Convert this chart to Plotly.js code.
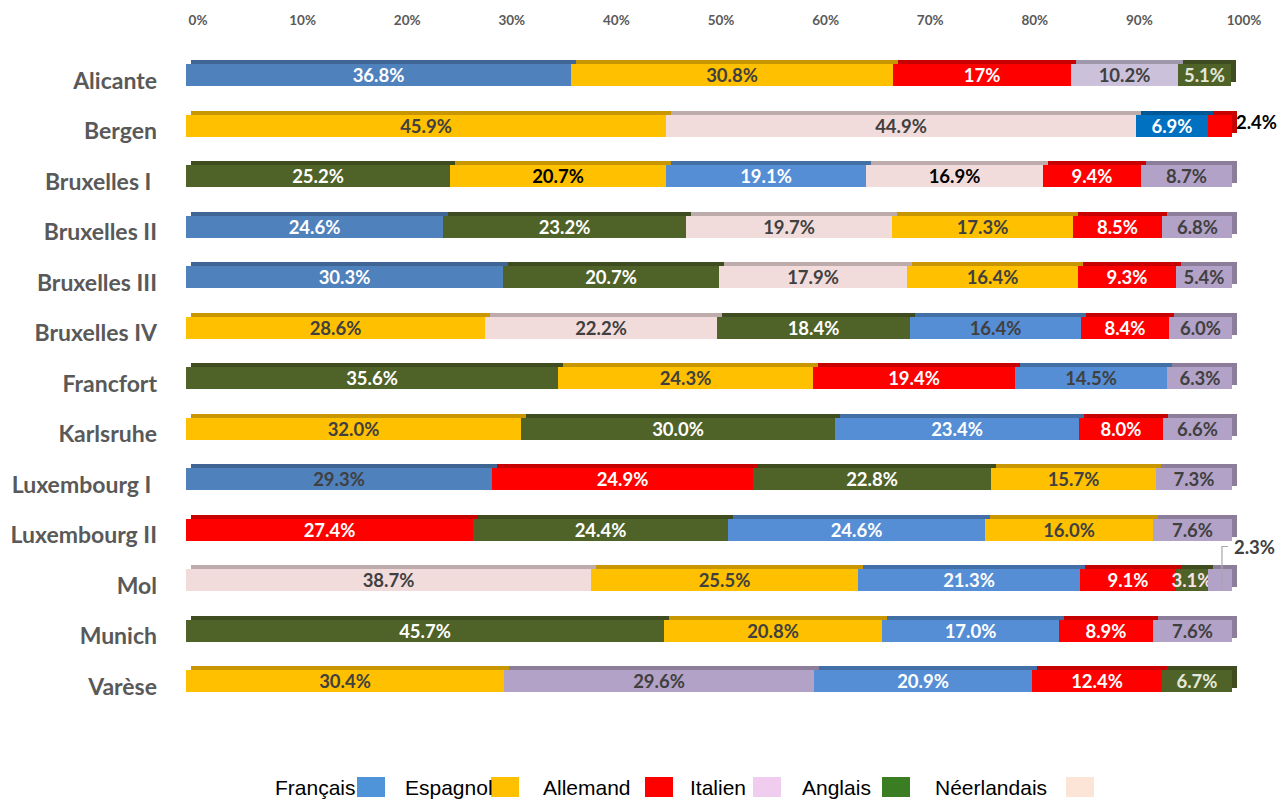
<!DOCTYPE html>
<html>
<head>
<meta charset="utf-8">
<script src="https://cdn.plot.ly/plotly-3.0.1.min.js"></script>
<style>
  html, body { margin: 0; padding: 0; background: #ffffff; }
  #chart { width: 1278px; height: 800px; }
</style>
</head>
<body>
<div id="chart"></div>
<script>
// ---------------- DATA ----------------
const categories = ['Alicante', 'Bergen', 'Bruxelles I', 'Bruxelles II', 'Bruxelles III', 'Bruxelles IV',
  'Francfort', 'Karlsruhe', 'Luxembourg I', 'Luxembourg II', 'Mol', 'Munich', 'Varèse'];
// category labels as printed (two of them carry a trailing space)
const categoryLabels = ['Alicante', 'Bergen', 'Bruxelles I\u00a0', 'Bruxelles II', 'Bruxelles III', 'Bruxelles IV',
  'Francfort', 'Karlsruhe', 'Luxembourg I\u00a0', 'Luxembourg II', 'Mol', 'Munich', 'Varèse'];

// language of each segment, left to right, for each school
const rowLanguages = [
  ['FR', 'ES', 'DE', 'NL', 'EN'],
  ['ES', 'IT', 'FR', 'DE'],
  ['EN', 'ES', 'FR', 'IT', 'DE', 'NL'],
  ['FR', 'EN', 'IT', 'ES', 'DE', 'NL'],
  ['FR', 'EN', 'IT', 'ES', 'DE', 'NL'],
  ['ES', 'IT', 'EN', 'FR', 'DE', 'NL'],
  ['EN', 'ES', 'DE', 'FR', 'NL'],
  ['ES', 'EN', 'FR', 'DE', 'NL'],
  ['FR', 'DE', 'EN', 'ES', 'NL'],
  ['DE', 'EN', 'FR', 'ES', 'NL'],
  ['IT', 'ES', 'FR', 'DE', 'EN', 'NL'],
  ['EN', 'ES', 'FR', 'DE', 'NL'],
  ['ES', 'NL', 'FR', 'DE', 'EN']
];

// share (%) of each segment, as printed on the chart
const rowValues = [
  ['36.8', '30.8', '17', '10.2', '5.1'],
  ['45.9', '44.9', '6.9', '2.4'],
  ['25.2', '20.7', '19.1', '16.9', '9.4', '8.7'],
  ['24.6', '23.2', '19.7', '17.3', '8.5', '6.8'],
  ['30.3', '20.7', '17.9', '16.4', '9.3', '5.4'],
  ['28.6', '22.2', '18.4', '16.4', '8.4', '6.0'],
  ['35.6', '24.3', '19.4', '14.5', '6.3'],
  ['32.0', '30.0', '23.4', '8.0', '6.6'],
  ['29.3', '24.9', '22.8', '15.7', '7.3'],
  ['27.4', '24.4', '24.6', '16.0', '7.6'],
  ['38.7', '25.5', '21.3', '9.1', '3.1', '2.3'],
  ['45.7', '20.8', '17.0', '8.9', '7.6'],
  ['30.4', '29.6', '20.9', '12.4', '6.7']
];

// labels drawn outside the bar: [row, segment]
const outsideLabels = [[1, 3], [10, 5]];

const xTickValues = [0, 10, 20, 30, 40, 50, 60, 70, 80, 90, 100];
const xTickLabels = ['0%', '10%', '20%', '30%', '40%', '50%', '60%', '70%', '80%', '90%', '100%'];

const legendLabels = ['Français', 'Espagnol', 'Allemand', 'Italien', 'Anglais', 'Néerlandais'];

// ---------------- STYLE ----------------
const langNames = { FR: 'Français', ES: 'Espagnol', DE: 'Allemand', IT: 'Italien', EN: 'Anglais', NL: 'Néerlandais' };
const langColors = { FR: '#558ed5', ES: '#ffc000', DE: '#ff0000', IT: '#f2dcdb', EN: '#4f6228', NL: '#b3a2c7' };
// per-row colour variants seen in the picture
const colorOverrides = {
  '0|FR': '#4f81bd', '3|FR': '#4f81bd', '4|FR': '#4f81bd', '8|FR': '#4f81bd',
  '1|FR': '#0070c0', '0|NL': '#ccc1da'
};
const textColorCodes = [
  'wdwdl', 'ddwk', 'wkwkwd', 'wwddwd', 'wwddwd', 'ddwdwd', 'wdwdd',
  'dwwwd', 'dwwdd', 'wwwdd', 'ddwwpd', 'wdwwd', 'ddwwl'
];
const textColorMap = { w: '#ffffff', d: '#404040', k: '#000000', l: '#e4e8d8', p: '#fbe4e4' };
const legendSwatchColors = ['#4f94d8', '#ffc000', '#ff0000', '#f0cdee', '#3a7d22', '#fce4d6'];

function darken(hex, f) {
  const n = parseInt(hex.slice(1), 16);
  const r = Math.round(((n >> 16) & 255) * f), g = Math.round(((n >> 8) & 255) * f), b = Math.round((n & 255) * f);
  return 'rgb(' + r + ',' + g + ',' + b + ')';
}
function segColor(row, lang) {
  return colorOverrides[row + '|' + lang] || langColors[lang];
}
function isOutside(r, k) {
  return outsideLabels.some(p => p[0] === r && p[1] === k);
}

// ---------------- GEOMETRY ----------------
const W = 1278, H = 800;
const plotLeft = 186, plotRight = 1232, plotTop = 50.25, plotBottom = 706.75;
const depthX = 5, depthY = 4;
const FONT = 'Lato, "Open Sans", sans-serif';
const LABEL_SIZE = 18.5;
const LEGEND_FONT = '"Liberation Sans Narrow", "Arial Narrow", "Liberation Sans", sans-serif';

const xFront = [plotLeft / W, plotRight / W];
const yFront = [(H - plotBottom) / H, (H - plotTop) / H];
const xBack = [(plotLeft + depthX) / W, (plotRight + depthX) / W];
const yBack = [(H - plotBottom + depthY) / H, (H - plotTop + depthY) / H];

const maxSeg = Math.max(...rowLanguages.map(r => r.length));
const traces = [];
const barWidth = 0.43;

// back layer (3D depth)
for (let k = 0; k < maxSeg; k++) {
  traces.push({
    type: 'bar', orientation: 'h', xaxis: 'x', yaxis: 'y',
    y: categories,
    x: rowValues.map(r => (r[k] !== undefined ? parseFloat(r[k]) : null)),
    width: barWidth,
    marker: { color: rowLanguages.map((r, i) => (r[k] ? darken(segColor(i, r[k]), 0.78) : 'rgba(0,0,0,0)')), line: { width: 0 } },
    hoverinfo: 'skip', showlegend: false
  });
}
// front layer
for (let k = 0; k < maxSeg; k++) {
  traces.push({
    type: 'bar', orientation: 'h', xaxis: 'x2', yaxis: 'y2',
    y: categories,
    x: rowValues.map(r => (r[k] !== undefined ? parseFloat(r[k]) : null)),
    name: 'segment ' + (k + 1),
    width: barWidth,
    marker: { color: rowLanguages.map((r, i) => (r[k] ? segColor(i, r[k]) : 'rgba(0,0,0,0)')), line: { width: 0 } },
    text: rowValues.map((r, i) => (r[k] !== undefined && !isOutside(i, k) ? r[k] + '%' : '')),
    textposition: 'inside', insidetextanchor: 'middle', textangle: 0,
    textfont: {
      family: FONT, size: LABEL_SIZE, weight: 700,
      color: textColorCodes.map(c => textColorMap[c[k]] || '#404040')
    },
    customdata: rowLanguages.map(r => (r[k] ? langNames[r[k]] : '')),
    hovertemplate: '%{y}<br>%{customdata}: %{x}%<extra></extra>',
    showlegend: false
  });
}

// annotations for labels outside the bars
const annotations = [];
const shapes = [];
outsideLabels.forEach(([r, k], idx) => {
  const vals = rowValues[r].map(parseFloat);
  const start = vals.slice(0, k).reduce((a, b) => a + b, 0);
  const end = Math.min(start + vals[k], 100);
  if (idx === 0) {
    annotations.push({
      xref: 'x2', yref: 'y2', x: end, y: categories[r], xanchor: 'left', yanchor: 'middle',
      xshift: 2, yshift: 4, showarrow: false, text: rowValues[r][k] + '%',
      font: { family: FONT, size: LABEL_SIZE, weight: 700, color: textColorMap[textColorCodes[r][k]] }
    });
  } else {
    const mid = (start + end) / 2;
    annotations.push({
      xref: 'x2', yref: 'y2', x: mid, y: categories[r], xanchor: 'left', yanchor: 'middle',
      xshift: 12, yshift: 34, showarrow: false, text: rowValues[r][k] + '%',
      font: { family: FONT, size: LABEL_SIZE, weight: 700, color: '#404040' }
    });
    shapes.push({
      type: 'path', xref: 'x2', yref: 'y2', xsizemode: 'pixel', ysizemode: 'pixel',
      xanchor: mid, yanchor: r,
      path: 'M 2,-10 L 2,34 L 8,34',
      line: { color: '#a6a6a6', width: 1.2 }
    });
  }
});

// legend (label followed by swatch, as in the original)
const legendTextX = [273, 403, 541, 688, 800, 933];
const legendSwatchX = [357, 491, 645, 753, 882, 1066];
const legendY = 787;
legendLabels.forEach((lab, i) => {
  annotations.push({
    xref: 'paper', yref: 'paper', x: legendTextX[i] / W, y: (H - legendY) / H,
    xanchor: 'left', yanchor: 'middle', showarrow: false, text: lab,
    font: { family: LEGEND_FONT, size: 21, color: '#000000' }
  });
  shapes.push({
    type: 'rect', xref: 'paper', yref: 'paper',
    x0: legendSwatchX[i] / W, x1: (legendSwatchX[i] + 28) / W,
    y0: (H - 797) / H, y1: (H - 777) / H,
    fillcolor: legendSwatchColors[i], line: { width: 0 }
  });
});

const layout = {
  width: W, height: H,
  margin: { l: 0, r: 0, t: 0, b: 0 },
  paper_bgcolor: '#ffffff', plot_bgcolor: 'rgba(0,0,0,0)',
  barmode: 'stack', bargap: 0,
  showlegend: false,
  xaxis: { domain: xBack, range: [0, 100], showgrid: false, zeroline: false, showticklabels: false, fixedrange: true },
  yaxis: { domain: yBack, type: 'category', range: [categories.length - 0.5, -0.5], showgrid: false, zeroline: false, showticklabels: false, fixedrange: true },
  xaxis2: {
    domain: xFront, range: [0, 100], side: 'top', anchor: 'y2',
    showgrid: false, zeroline: false, showline: false, ticks: '',
    tickvals: xTickValues, ticktext: xTickLabels,
    tickfont: { family: FONT, size: 13.5, weight: 700, color: '#595959' },
    ticklabelstandoff: 22, ticklabelshift: 12, fixedrange: true
  },
  yaxis2: {
    domain: yFront, type: 'category', anchor: 'x2',
    range: [categories.length - 0.5, -0.5],
    tickvals: categories, ticktext: categoryLabels,
    showgrid: false, zeroline: false, showline: false, ticks: '',
    tickfont: { family: FONT, size: 23, weight: 700, color: '#595959' },
    ticklabelstandoff: 28, ticklabelshift: -5, fixedrange: true
  },
  annotations: annotations,
  shapes: shapes,
  uniformtext: { mode: 'show', minsize: LABEL_SIZE }
};

Plotly.newPlot('chart', traces, layout, { displayModeBar: false });
</script>
</body>
</html>
